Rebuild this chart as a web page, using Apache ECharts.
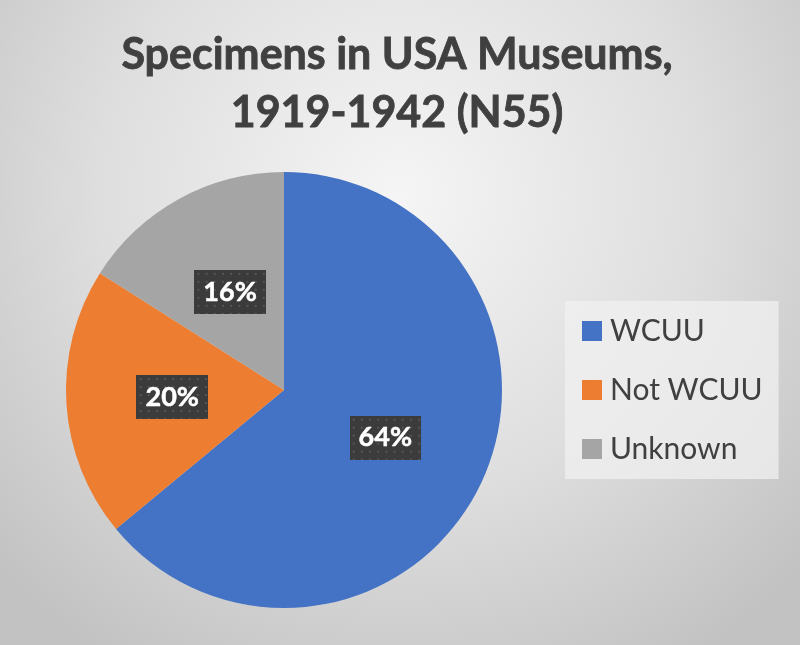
<!DOCTYPE html>
<html>
<head>
<meta charset="utf-8">
<script src="https://cdn.jsdelivr.net/npm/echarts@6/dist/echarts.min.js"></script>
<style>
  html, body { margin: 0; padding: 0; }
  #chart { width: 800px; height: 645px; }
</style>
</head>
<body>
<div id="chart"></div>
<script>
const titleLines = ['Specimens in USA Museums,', '1919-1942 (N55)'];
const categories = ['WCUU', 'Not WCUU', 'Unknown'];
const shares = [64, 20, 16];
const sliceColors = ['#4472C4', '#ED7D31', '#A5A5A5'];

// Dark dotted fill for the data-label boxes
function dottedTile(w, h) {
  const c = document.createElement('canvas');
  c.width = w; c.height = h;
  const g = c.getContext('2d');
  g.fillStyle = '#3b3b3b';
  g.fillRect(0, 0, w, h);
  g.fillStyle = '#555555';
  for (let y = 3; y < h; y += 8) {
    for (let x = 3; x < w; x += 8) {
      g.fillRect(x, y, 2, 2);
    }
  }
  return c;
}
const labelBg = dottedTile(70, 44);

const chart = echarts.init(document.getElementById('chart'), null, { renderer: 'canvas' });
chart.setOption({
  backgroundColor: {
    type: 'radial', x: 0.5, y: 0.3, r: 0.85,
    colorStops: [
      { offset: 0, color: '#f5f5f5' },
      { offset: 0.55, color: '#dedede' },
      { offset: 1, color: '#c2c2c2' }
    ]
  },
  title: {
    text: titleLines.join('\n'),
    left: 392,
    top: 21,
    textAlign: 'center',
    textStyle: {
      fontFamily: 'Lato',
      fontWeight: 'bold',
      fontSize: 43,
      lineHeight: 58,
      color: '#404040',
      textBorderColor: '#404040',
      textBorderWidth: 0.8
    }
  },
  legend: {
    orient: 'vertical',
    left: 565,
    top: 301,
    padding: [15, 16, 15, 17],
    itemGap: 29,
    itemWidth: 20,
    itemHeight: 20,
    icon: 'rect',
    backgroundColor: 'rgba(240,240,240,0.75)',
    data: categories,
    textStyle: {
      fontFamily: 'Lato',
      fontSize: 30,
      lineHeight: 30,
      color: '#404040',
      padding: [0, 0, 0, 3]
    }
  },
  series: [{
    type: 'pie',
    center: [284, 390],
    radius: 218,
    startAngle: 90,
    clockwise: true,
    emphasis: { disabled: true },
    data: categories.map((name, i) => ({
      name,
      value: shares[i],
      itemStyle: { color: sliceColors[i] }
    })),
    label: {
      show: true,
      position: 'inside',
      formatter: '{c}%',
      overflow: 'none',
      fontFamily: 'Lato',
      fontWeight: 'bold',
      fontSize: 27,
      lineHeight: 30,
      color: '#ffffff',
      textBorderColor: '#ffffff',
      textBorderWidth: 0.5,
      padding: [7, 9],
      backgroundColor: { image: labelBg },
      shadowColor: 'rgba(0,0,0,0.45)',
      shadowBlur: 6,
      shadowOffsetX: 3,
      shadowOffsetY: 3
    },
    labelLine: { show: false }
  }]
});
</script>
</body>
</html>
